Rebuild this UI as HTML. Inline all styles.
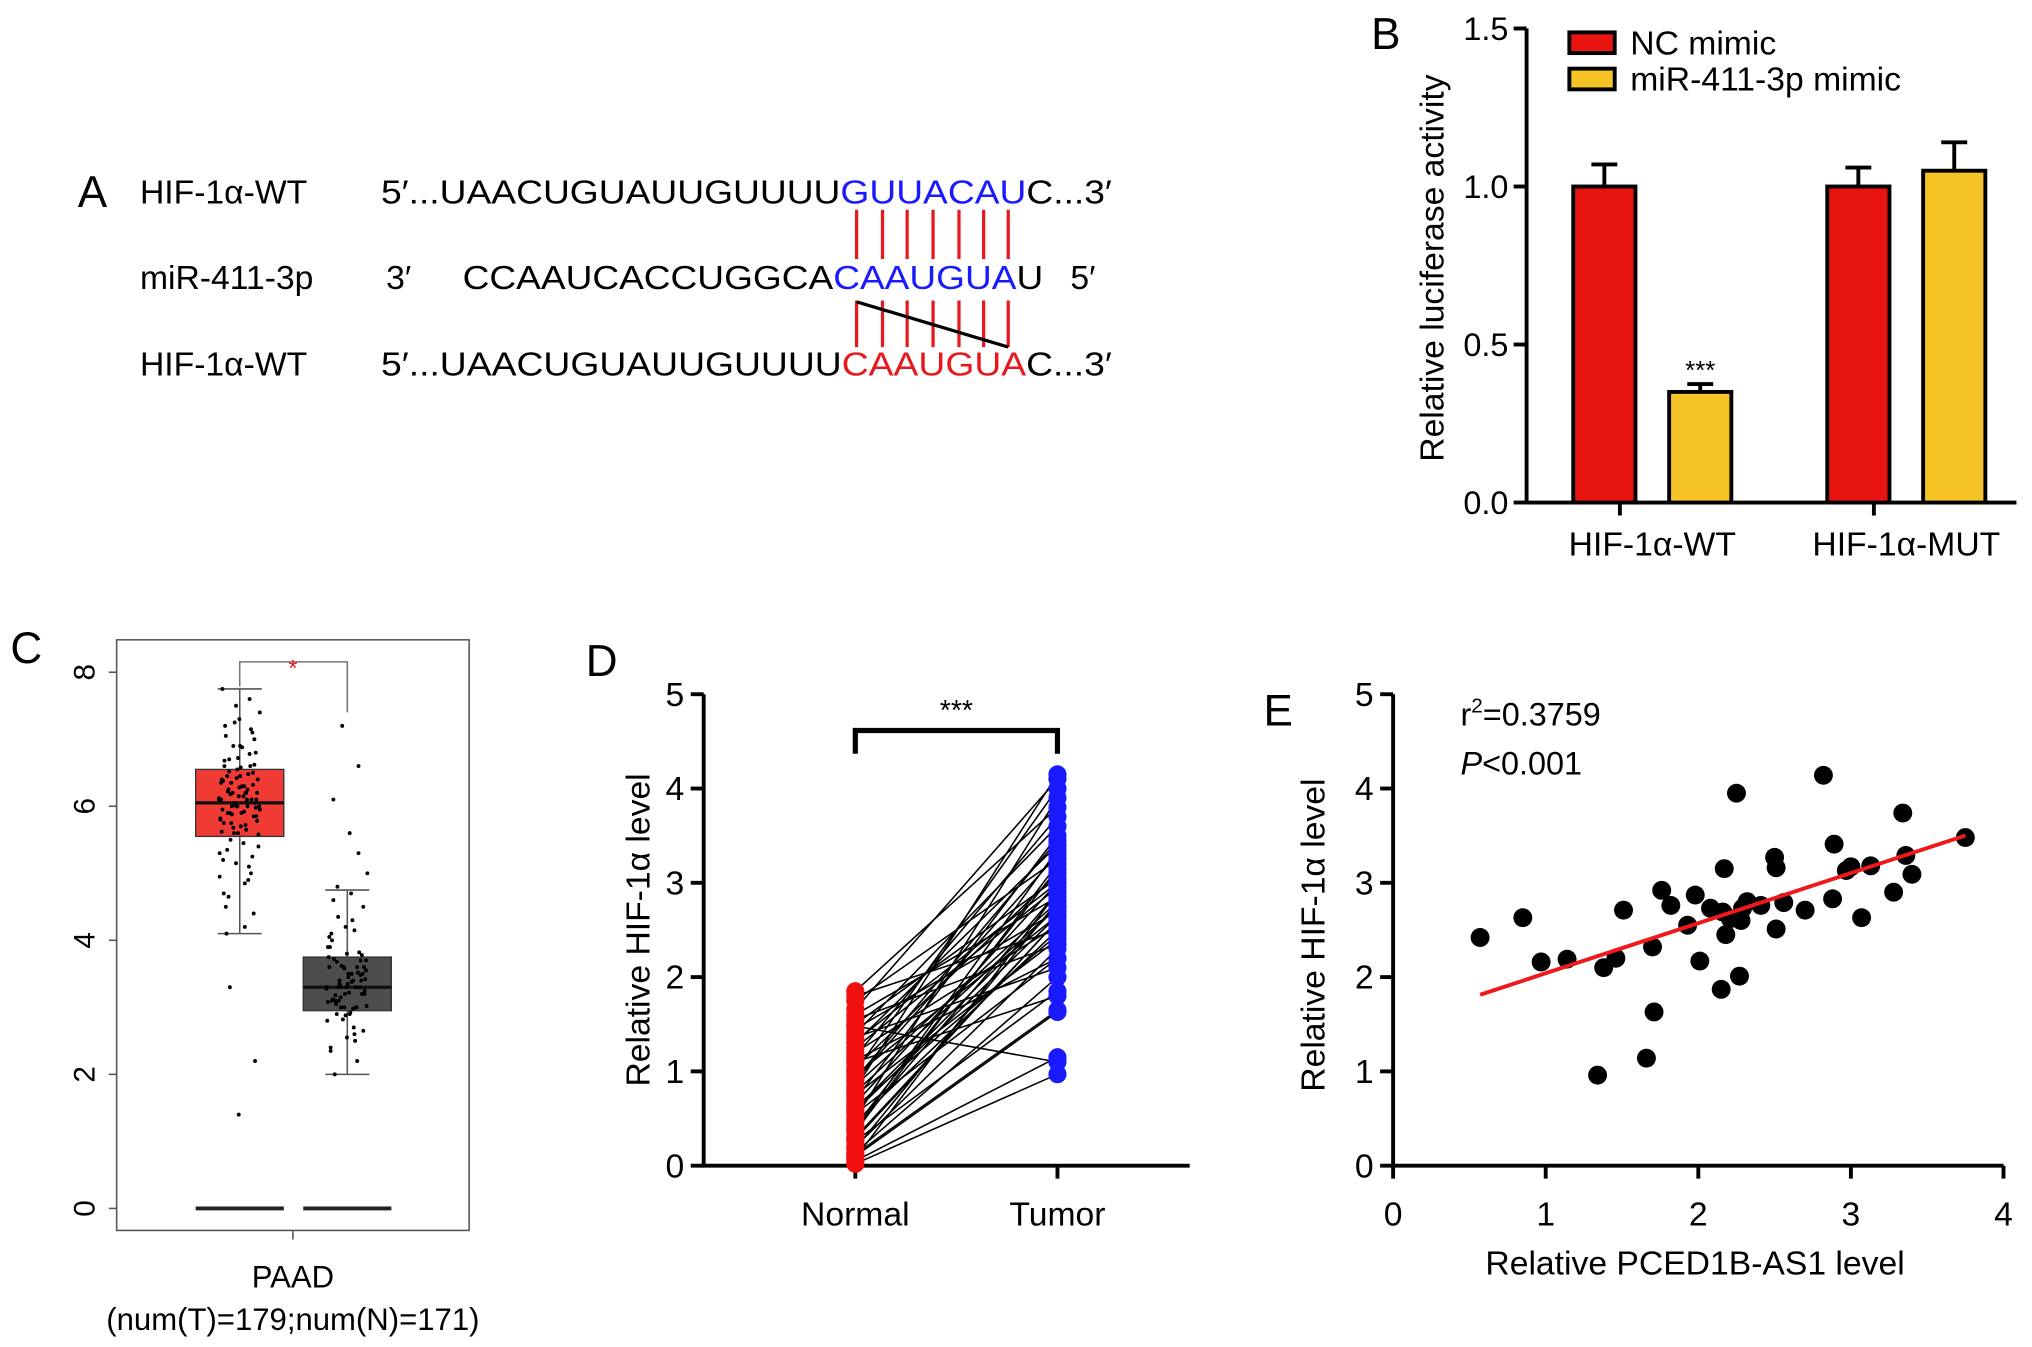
<!DOCTYPE html>
<html><head><meta charset="utf-8"><style>
html,body{margin:0;padding:0;background:#fff;}
svg{display:block;font-family:"Liberation Sans",Arial,sans-serif;}
</style></head><body>
<svg id="fig" width="2032" height="1347" viewBox="0 0 1568 1040" preserveAspectRatio="none" xmlns="http://www.w3.org/2000/svg">
<!-- Panel A -->
<g font-size="26">
<text x="60" y="160" font-size="34">A</text>
<text x="108" y="157">HIF-1α-WT</text>
<text x="294" y="157" textLength="564" lengthAdjust="spacingAndGlyphs">5′...UAACUGUAUUGUUUU<tspan fill="#1a1aff">GUUACAU</tspan>C...3′</text>
<text x="108" y="223">miR-411-3p</text>
<text x="298" y="223">3′</text>
<text x="357" y="223" textLength="448" lengthAdjust="spacingAndGlyphs">CCAAUCACCUGGCA<tspan fill="#1a1aff">CAAUGUA</tspan>U</text>
<text x="826" y="223">5′</text>
<text x="108" y="290">HIF-1α-WT</text>
<text x="294" y="290" textLength="564" lengthAdjust="spacingAndGlyphs">5′...UAACUGUAUUGUUUU<tspan fill="#e8191e">CAAUGUA</tspan>C...3′</text>
<g stroke="#e8191e" stroke-width="2.5">
<line x1="661" y1="162" x2="661" y2="200"/><line x1="681" y1="162" x2="681" y2="200"/><line x1="700" y1="162" x2="700" y2="200"/><line x1="720" y1="162" x2="720" y2="200"/><line x1="740" y1="162" x2="740" y2="200"/><line x1="759" y1="162" x2="759" y2="200"/><line x1="778" y1="162" x2="778" y2="200"/>
<line x1="661" y1="232" x2="661" y2="268"/><line x1="681" y1="232" x2="681" y2="268"/><line x1="700" y1="232" x2="700" y2="268"/><line x1="720" y1="232" x2="720" y2="268"/><line x1="740" y1="232" x2="740" y2="268"/><line x1="759" y1="232" x2="759" y2="268"/><line x1="778" y1="232" x2="778" y2="268"/>
</g>
<line x1="661" y1="233" x2="778" y2="268" stroke="#000" stroke-width="2.5"/>
</g>
<g id="pB"></g>
<g id="pC"></g>
<g id="pD"></g>
<g id="pE"></g>
</svg>
<script>
// ---- Panel B data
const bGroups = ["HIF-1α-WT", "HIF-1α-MUT"];
const bNC = [1.0, 1.0];
const bNCerr = [0.07, 0.06];
const bMimic = [0.35, 1.05];
const bMimicErr = [0.025, 0.09];
const bTicks = ["0.0", "0.5", "1.0", "1.5"];
// ---- Panel C data
const cTumor = [6.1,6.3,5.9,6.5,6.0,5.8,6.2,6.7,7.0,5.6,6.4,6.1,5.5,6.8,7.3,5.2,4.9,6.0,6.2,5.7,6.6,7.6,6.9,5.4,6.3,4.5,5.0,6.05,5.95,6.15,6.45,7.1,7.5,5.3,4.2,6.25,5.85,6.55,6.35,5.65,3.3,2.2,1.4,7.75,6.0,5.75,6.1,6.9,4.7,5.1,6.2,6.4,5.9,7.2,6.6,5.6,6.0,6.3,4.1,6.1,
 6.02,6.12,5.92,6.22,6.32,6.42,5.82,5.72,6.52,6.62,6.72,5.62,6.08,6.18,5.98,6.28,6.38,6.48,5.88,5.78,6.58,6.68,6.78,5.68,5.58,6.88,7.05,7.15,7.25,7.4,5.45,5.35,5.25,5.15,4.95,4.85,4.65,4.4,6.0,6.1,6.2,5.9,6.05,6.15,5.95,6.25,6.35,5.85,6.45,5.75];
const cNormal = [3.3,3.5,3.1,3.7,3.0,3.9,3.4,2.9,3.2,4.2,3.6,2.6,3.3,4.5,3.8,2.4,3.0,3.35,3.25,3.45,4.0,2.2,3.15,3.55,5.6,6.1,6.6,7.2,5.0,4.7,2.0,3.3,3.6,2.8,4.3,3.05,3.4,3.2,3.75,2.7,4.8,3.5,3.3,3.9,2.5,3.1,3.6,3.35,4.1,3.0,
 3.32,3.42,3.22,3.12,3.52,3.62,3.02,2.92,3.72,3.82,2.82,3.28,3.38,3.18,3.48,3.58,3.08,2.98,3.68,3.78,2.88,4.05,4.15,4.35,2.65,2.55,2.35,3.3,3.4,3.2,3.5,3.1,3.6,3.0,3.7,2.9,4.6,5.3];
const cTumorStats = [4.1, 5.55, 6.05, 6.55, 7.75];
const cNormalStats = [2.0, 2.95, 3.3, 3.75, 4.75];
const cTicks = [0, 2, 4, 6, 8];
// ---- Panel D data
const dNormal = [0.02,0.05,0.1,0.14,0.2,0.26,0.3,0.36,0.4,0.46,0.5,0.55,0.6,0.66,0.7,0.75,0.82,0.85,0.9,0.96,1.0,1.04,1.1,1.16,1.2,1.25,1.3,1.36,1.4,1.45,1.5,1.55,1.6,1.66,1.75,1.8,1.85,0.08,0.12,0.28,0.42,0.62,0.78,0.92,1.12,1.32,1.48,0.18,0.38,0.58];
const dTumor = [0.97,1.15,1.63,2.0,2.3,1.85,2.6,3.2,2.9,2.5,3.9,2.2,2.75,3.0,3.5,2.4,4.15,2.8,3.3,2.65,4.0,3.1,1.8,3.7,2.55,2.95,3.4,2.1,3.6,2.7,3.05,2.35,2.85,4.1,3.25,2.5,3.8,2.9,1.65,2.6,3.15,2.45,2.75,3.45,2.2,3.0,1.1,2.8,3.35,2.65];
const dTicks = [0,1,2,3,4,5];
// ---- Panel E data
const eX = [0.57,0.85,0.97,1.14,1.38,1.46,1.51,1.70,1.71,1.66,1.34,1.76,1.82,1.93,1.98,2.01,2.08,2.15,2.17,2.16,2.18,2.21,2.25,2.27,2.28,2.29,2.32,2.41,2.50,2.51,2.51,2.56,2.70,2.82,2.88,2.89,2.97,3.00,3.07,3.13,3.28,3.34,3.36,3.40,3.75];
const eY = [2.42,2.63,2.16,2.19,2.10,2.20,2.71,2.32,1.63,1.14,0.96,2.92,2.76,2.55,2.87,2.17,2.73,1.87,3.15,2.69,2.45,2.62,3.95,2.01,2.60,2.73,2.80,2.76,3.27,3.16,2.51,2.79,2.71,4.14,2.83,3.41,3.13,3.17,2.63,3.18,2.90,3.74,3.29,3.09,3.48];
const eFit = [1.51, 0.531];
const eXTicks = [0,1,2,3,4];
const eYTicks = [0,1,2,3,4,5];

const NS = "http://www.w3.org/2000/svg";
function mk(parent, tag, attrs, txt) {
  const el = document.createElementNS(NS, tag);
  for (const k in attrs) el.setAttribute(k, attrs[k]);
  if (txt !== undefined) el.textContent = txt;
  parent.appendChild(el);
  return el;
}
// ===== Panel B
(function(){
  const g = document.getElementById('pB');
  const y = v => 388 - v * 244;
  const groupX = [1238, 1434];
  let t = mk(g,'text',{x:1058,y:38,'font-size':34},'B');
  
  
  let ax = mk(g,'path',{d:'M1178 22 V388 H1556',fill:'none',stroke:'#000','stroke-width':3});
  
  
  bTicks.forEach(s=>{
    const v = parseFloat(s);
    const tk = mk(g,'line',{x1:1168,x2:1178,y1:y(v),y2:y(v),stroke:'#000','stroke-width':3});
    
    
    const tl = mk(g,'text',{x:1164,y:y(v)+9,'font-size':25,'text-anchor':'end'},s);
    
    
  });
  const yt = mk(g,'text',{x:0,y:0,'font-size':26,'text-anchor':'middle',transform:'translate(1114,207) rotate(-90)'},'Relative luciferase activity');
  
  
  bGroups.forEach((name,i)=>{
    const gx = groupX[i];
    const tk = mk(g,'line',{x1:gx+12,x2:gx+12,y1:388,y2:398,stroke:'#000','stroke-width':3});
    
    
    const lbl = mk(g,'text',{x:gx+37,y:429,'font-size':26,'text-anchor':'middle'},name);
    
    
    [[bNC[i],bNCerr[i],'#e8140f',gx-24],[bMimic[i],bMimicErr[i],'#f7c428',gx+50]].forEach(([v,e,c,x0])=>{
      const eb = mk(g,'path',{d:`M${x0+24} ${y(v)} V${y(v+e)} M${x0+14} ${y(v+e)} H${x0+34}`,stroke:'#000','stroke-width':3,fill:'none'});
      
      
      const r = mk(g,'rect',{x:x0,y:y(v),width:48,height:388-y(v),fill:c,stroke:'#000','stroke-width':3});
      
      
    });
  });
  const st = mk(g,'text',{x:1312,y:y(bMimic[0]+bMimicErr[0])-4,'font-size':20,'text-anchor':'middle'},'***');
  
  
  [['NC mimic','#e8140f',25],['miR-411-3p mimic','#f7c428',53]].forEach(([n,c,yy])=>{
    const r = mk(g,'rect',{x:1211,y:yy,width:35,height:16,fill:c,stroke:'#000','stroke-width':3});
    
    
    const tx = mk(g,'text',{x:1258,y:yy+17,'font-size':26},n);
    
    
  });
})();
// ===== Panel C
(function(){
  const g = document.getElementById('pC');
  const y = v => 933 - v * 51.75;
  let t = mk(g,'text',{x:8,y:512,'font-size':34},'C');
  
  
  const fr = mk(g,'rect',{x:90,y:494,width:272,height:456,fill:'none',stroke:'#555','stroke-width':1.2});
  
  
  cTicks.forEach(v=>{
    const tk = mk(g,'line',{x1:84,x2:90,y1:y(v),y2:y(v),stroke:'#555','stroke-width':1.2});
    
    
    const tl = mk(g,'text',{x:0,y:0,'font-size':23,'text-anchor':'middle',transform:`translate(73,${y(v)}) rotate(-90)`},String(v));
    
    
  });
  const xt = mk(g,'line',{x1:226,x2:226,y1:950,y2:957,stroke:'#555','stroke-width':1.2});
  
  
  const l1 = mk(g,'text',{x:226,y:994,'font-size':24,'text-anchor':'middle'},'PAAD');
  
  
  const l2 = mk(g,'text',{x:226,y:1027,'font-size':24,'text-anchor':'middle'},'(num(T)=179;num(N)=171)');
  
  
  [[185,cTumorStats,cTumor,'#f03b35'],[268,cNormalStats,cNormal,'#4d4d4d']].forEach(([cx,s,vals,col])=>{
    const wh = mk(g,'path',{d:`M${cx} ${y(s[0])} V${y(s[4])} M${cx-17} ${y(s[0])} H${cx+17} M${cx-17} ${y(s[4])} H${cx+17}`,stroke:'#555','stroke-width':1.2,fill:'none'});
    
    
    const bx = mk(g,'rect',{x:cx-34,y:y(s[3]),width:68,height:y(s[1])-y(s[3]),fill:col,stroke:'#333','stroke-width':1});
    
    
    const md = mk(g,'line',{x1:cx-34,x2:cx+34,y1:y(s[2]),y2:y(s[2]),stroke:'#111','stroke-width':2.5});
    
    
    vals.forEach((v,i)=>{
      const off = ((i*37)%61)/61 - 0.5;
      const p = mk(g,'circle',{cx:cx+off*32,cy:y(v),r:1.5,fill:'#000'});
      
      
    });
    const z = mk(g,'line',{x1:cx-34,x2:cx+34,y1:y(0),y2:y(0),stroke:'#222','stroke-width':3});
    
    
  });
  const br = mk(g,'path',{d:`M185 530 V511 H268 V550`,stroke:'#777','stroke-width':1.2,fill:'none'});
  
  
  const st = mk(g,'text',{x:226,y:522,'font-size':18,'text-anchor':'middle',fill:'#e8191e'},'*');
  
  
})();
// ===== Panel D
(function(){
  const g = document.getElementById('pD');
  const y = v => 900 - v * 72.8;
  const xN = 660, xT = 816;
  let t = mk(g,'text',{x:452,y:522,'font-size':34},'D');
  
  
  const ax = mk(g,'path',{d:'M543 536 V900 H918',fill:'none',stroke:'#000','stroke-width':3});
  
  
  dTicks.forEach(v=>{
    const tk = mk(g,'line',{x1:533,x2:543,y1:y(v),y2:y(v),stroke:'#000','stroke-width':3});
    
    
    const tl = mk(g,'text',{x:528,y:y(v)+9,'font-size':26,'text-anchor':'end'},String(v));
    
    
  });
  [[xN,'Normal'],[xT,'Tumor']].forEach(([x,n])=>{
    const tk = mk(g,'line',{x1:x,x2:x,y1:900,y2:910,stroke:'#000','stroke-width':3});
    
    
    const tl = mk(g,'text',{x:x,y:946,'font-size':26,'text-anchor':'middle'},n);
    
    
  });
  const yt = mk(g,'text',{x:0,y:0,'font-size':26,'text-anchor':'middle',transform:'translate(501,718) rotate(-90)'},'Relative HIF-1α level');
  
  
  dNormal.forEach((v,i)=>{
    const l = mk(g,'line',{x1:xN,y1:y(v),x2:xT,y2:y(dTumor[i]),stroke:'#000','stroke-width':1.2});
    
    
  });
  dNormal.forEach(v=>{
    const c = mk(g,'circle',{cx:xN,cy:y(v),r:7,fill:'#f01010'});
    
    
  });
  dTumor.forEach(v=>{
    const c = mk(g,'circle',{cx:xT,cy:y(v),r:7,fill:'#1a1aff'});
    
    
  });
  const br = mk(g,'path',{d:`M${xN} 582 V564 H${xT} V582`,stroke:'#000','stroke-width':4,fill:'none'});
  
  
  const st = mk(g,'text',{x:(xN+xT)/2,y:556,'font-size':22,'text-anchor':'middle'},'***');
  
  
})();
// ===== Panel E
(function(){
  const g = document.getElementById('pE');
  const x = v => 1075 + v * 117.75;
  const y = v => 900 - v * 72.8;
  let t = mk(g,'text',{x:975,y:560,'font-size':34},'E');
  
  
  const ax = mk(g,'path',{d:'M1075 536 V900 H1546',fill:'none',stroke:'#000','stroke-width':3});
  
  
  eYTicks.forEach(v=>{
    const tk = mk(g,'line',{x1:1065,x2:1075,y1:y(v),y2:y(v),stroke:'#000','stroke-width':3});
    
    
    const tl = mk(g,'text',{x:1060,y:y(v)+9,'font-size':26,'text-anchor':'end'},String(v));
    
    
  });
  eXTicks.forEach(v=>{
    const tk = mk(g,'line',{x1:x(v),x2:x(v),y1:900,y2:910,stroke:'#000','stroke-width':3});
    
    
    const tl = mk(g,'text',{x:x(v),y:946,'font-size':26,'text-anchor':'middle'},String(v));
    
    
  });
  const xt = mk(g,'text',{x:1308,y:984,'font-size':26,'text-anchor':'middle'},'Relative PCED1B-AS1 level');
  
  
  const yt = mk(g,'text',{x:0,y:0,'font-size':26,'text-anchor':'middle',transform:'translate(1022,722) rotate(-90)'},'Relative HIF-1α level');
  
  
  const x0 = Math.min(...eX), x1 = Math.max(...eX);
  eX.forEach((v,i)=>{
    const c = mk(g,'circle',{cx:x(v),cy:y(eY[i]),r:7.3,fill:'#000'});
    
    
  });
  const fl = mk(g,'line',{x1:x(x0),y1:y(eFit[0]+eFit[1]*x0),x2:x(x1),y2:y(eFit[0]+eFit[1]*x1),stroke:'#f01818','stroke-width':3});
  
  
  const r2 = mk(g,'text',{x:1127,y:560,'font-size':25});
  
  
  r2.innerHTML = 'r<tspan dy="-10" font-size="16">2</tspan><tspan dy="10">=0.3759</tspan>';
  const pv = mk(g,'text',{x:1127,y:598,'font-size':25});
  
  
  pv.innerHTML = '<tspan font-style="italic">P</tspan>&lt;0.001';
})();
</script>
</body></html>
